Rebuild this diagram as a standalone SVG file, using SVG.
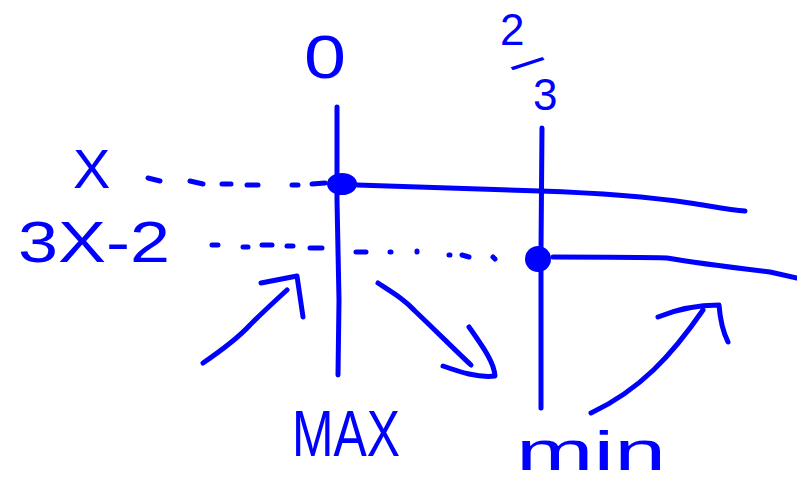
<svg xmlns="http://www.w3.org/2000/svg" width="797" height="485" viewBox="0 0 797 485">
<style>
.s{fill:none;stroke:#0000ff;stroke-width:5;stroke-linecap:round;stroke-linejoin:round}
.d{fill:none;stroke:#0000ff;stroke-width:5;stroke-linecap:round}
.t{fill:#0000ff;font-family:"Liberation Sans",Arial,sans-serif}
</style>
<rect width="797" height="485" fill="#ffffff"/>
<g id="labels">
<text class="t" x="73" y="188" font-size="56">X</text>
<text class="t" x="18" y="262" font-size="58" textLength="152" lengthAdjust="spacingAndGlyphs">3X-2</text>
<text class="t" x="304" y="78" font-size="62" textLength="42" lengthAdjust="spacingAndGlyphs">0</text>
<text class="t" font-size="44"><tspan x="500" y="45">2</tspan><tspan x="511" y="67" rotate="57">/</tspan><tspan x="533" y="110">3</tspan></text>
<text class="t" x="292" y="456" font-size="65" textLength="108" lengthAdjust="spacingAndGlyphs">MAX</text>
<text class="t" x="516" y="470" font-size="56" textLength="150" lengthAdjust="spacingAndGlyphs">min</text>
</g>
<g id="axes">
<path class="s" d="M337,107 L337,200 L339,300 L338,375"/>
<path class="s" d="M542,128 L541,250 L541,330 L541,408"/>
</g>
<g id="graphs">
<path class="s" d="M357,185 C420,187 480,189 540,191 C600,193 650,197 690,203 C710,206 730,210 745,211"/>
<path class="s" d="M553,257 C600,257 640,257 667,258 C690,262 720,266 770,272 L797,278"/>
<ellipse cx="342" cy="184" rx="14" ry="10" fill="#0000ff" stroke="#0000ff" stroke-width="2"/>
<circle cx="538" cy="259" r="13" fill="#0000ff"/>
</g>
<g id="connectors">
<g id="dots-x">
<path class="d" d="M148,178 L160,181 M190,181 L203,184 M222,184 L231,184 M247,185 L258,185 M292,185 L298,185 M312,184 L325,183"/>
</g>
<g id="dots-3x2">
<path class="d" d="M212,245 L218,245 M243,247 L248,247 M262,245 L272,245 M287,246 L293,246 M310,248 L322,248 M356,252 L366,252 M390,252 L391,252 M417,251 L417,252 M449,255 L450,255 M462,255 L469,257 M493,257 L495,259"/>
</g>
<path id="arrow-up-left" class="s" d="M203,363 C222,350 238,338 250,325 C262,313 276,300 287,290 M261,283 L297,276 L303,317"/>
<path id="arrow-down" class="s" d="M378,283 C395,294 405,300 415,311 C435,330 455,350 471,365 M469,327 C483,347 494,362 495,376 C478,378 460,372 443,366"/>
<path id="arrow-up-right" class="s" d="M591,413 C640,390 672,355 703,310 M658,317 C680,308 700,305 719,305 C720,318 722,330 728,342"/>
</g>
</svg>
